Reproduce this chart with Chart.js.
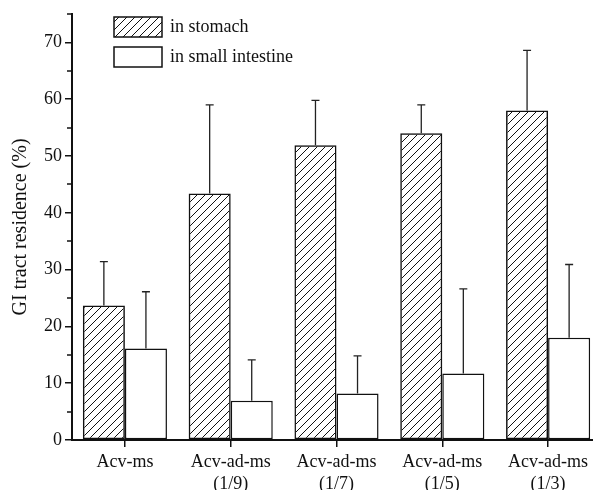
<!DOCTYPE html>
<html>
<head>
<meta charset="utf-8">
<script src="https://cdn.jsdelivr.net/npm/chart.js@4/dist/chart.umd.min.js"></script>
<style>
  html, body { margin: 0; padding: 0; background: #fff; overflow: hidden; }
  #wrap { width: 593px; height: 490px; overflow: hidden; }
</style>
</head>
<body>
<div id="wrap"><canvas id="myChart" width="601" height="490"></canvas></div>
<script>
// categories and measured values (upper error only)
const categories = [['Acv-ms'], ['Acv-ad-ms', '(1/9)'], ['Acv-ad-ms', '(1/7)'], ['Acv-ad-ms', '(1/5)'], ['Acv-ad-ms', '(1/3)']];
const stomach = [23.7, 43.4, 51.9, 54.0, 58.0];
const stomachErr = [7.7, 15.6, 7.9, 5.0, 10.6];
const intestine = [16.1, 6.9, 8.2, 11.7, 18.0];
const intestineErr = [10.0, 7.2, 6.6, 14.9, 12.9];
const yTicks = [0, 10, 20, 30, 40, 50, 60, 70];
const yMinor = [5, 15, 25, 35, 45, 55, 65, 75];

const serif = 'Liberation Serif';

// diagonal hatch fill
function makeHatch() {
    let c = document.createElement('canvas');
    c.width = 8;
    c.height = 8;
    let g = c.getContext('2d');
    g.strokeStyle = '#111';
    g.lineWidth = 1;
    g.beginPath();
    g.moveTo(0, 8); g.lineTo(8, 0);
    g.moveTo(-1, 1); g.lineTo(1, -1);
    g.moveTo(7, 9); g.lineTo(9, 7);
    g.stroke();
    return document.createElement('canvas').getContext('2d').createPattern(c, 'repeat');
}
const hatch = makeHatch();

// upper error bars
const errorBars = {
    id: 'errorBars',
    afterDatasetsDraw(chart) {
        const ctx = chart.ctx;
        const y = chart.scales.y;
        ctx.save();
        ctx.strokeStyle = '#222';
        ctx.lineWidth = 1.3;
        chart.data.datasets.forEach((ds, i) => {
            chart.getDatasetMeta(i).data.forEach((bar, j) => {
                let top = y.getPixelForValue(ds.data[j] + ds.errors[j]);
                ctx.beginPath();
                ctx.moveTo(bar.x, bar.y);
                ctx.lineTo(bar.x, top);
                ctx.moveTo(bar.x - 4, top);
                ctx.lineTo(bar.x + 4, top);
                ctx.stroke();
            });
        });
        ctx.restore();
    }
};

// minor ticks on the y axis
const minorTicks = {
    id: 'minorTicks',
    afterDraw(chart) {
        const ctx = chart.ctx;
        const y = chart.scales.y;
        const left = chart.chartArea.left;
        ctx.save();
        ctx.strokeStyle = '#111';
        ctx.lineWidth = 1.5;
        yMinor.forEach(v => {
            let py = Math.round(y.getPixelForValue(v));
            ctx.beginPath();
            ctx.moveTo(left - 5, py);
            ctx.lineTo(left, py);
            ctx.stroke();
        });
        ctx.restore();
    }
};

// legend boxes in the upper left of the plot
const boxLegend = {
    id: 'boxLegend',
    afterDraw(chart) {
        const ctx = chart.ctx;
        ctx.save();
        ctx.font = '18px "' + serif + '"';
        ctx.textBaseline = 'middle';
        chart.data.datasets.forEach((ds, i) => {
            let bx = 114, by = 17 + i * 30;
            ctx.fillStyle = ds.backgroundColor;
            ctx.fillRect(bx, by, 48, 20);
            ctx.strokeStyle = '#111';
            ctx.lineWidth = 1.5;
            ctx.strokeRect(bx, by, 48, 20);
            ctx.fillStyle = '#111';
            ctx.fillText(ds.label, 170, by + 10);
        });
        ctx.restore();
    }
};

const ctx = document.getElementById('myChart').getContext('2d');
new Chart(ctx, {
    type: 'bar',
    data: {
        labels: categories,
        datasets: [
            {
                label: 'in stomach',
                data: stomach,
                errors: stomachErr,
                backgroundColor: hatch,
                borderColor: '#111',
                borderWidth: 1.5,
                borderSkipped: false
            },
            {
                label: 'in small intestine',
                data: intestine,
                errors: intestineErr,
                backgroundColor: '#fff',
                borderColor: '#111',
                borderWidth: 1.5,
                borderSkipped: false
            }
        ]
    },
    options: {
        responsive: false,
        animation: false,
        events: [],
        layout: { padding: { top: 14, left: 0, right: 0, bottom: 0 } },
        datasets: { bar: { categoryPercentage: 0.795, barPercentage: 1 } },
        plugins: { legend: { display: false }, tooltip: { enabled: false } },
        scales: {
            x: {
                afterFit: s => { s.height = 50; },
                grid: { offset: false, drawOnChartArea: false, drawTicks: true, tickLength: 7, color: '#111', lineWidth: 1.5 },
                border: { color: '#111', width: 2 },
                ticks: { color: '#111', padding: 4, maxRotation: 0, font: { family: serif, size: 18, lineHeight: 1.25 } }
            },
            y: {
                min: 0,
                max: 75,
                afterFit: s => { s.width = 72; },
                afterBuildTicks: s => { s.ticks = yTicks.map(v => ({ value: v })); },
                grid: { drawOnChartArea: false, drawTicks: true, tickLength: 7, color: '#111', lineWidth: 1.5 },
                border: { color: '#111', width: 2 },
                ticks: { color: '#111', padding: 3, font: { family: serif, size: 18 } },
                title: {
                    display: true,
                    text: 'GI tract residence (%)',
                    color: '#111',
                    padding: { top: 9, bottom: 0 },
                    font: { family: serif, size: 20 }
                }
            }
        }
    },
    plugins: [errorBars, minorTicks, boxLegend]
});
</script>
</body>
</html>
